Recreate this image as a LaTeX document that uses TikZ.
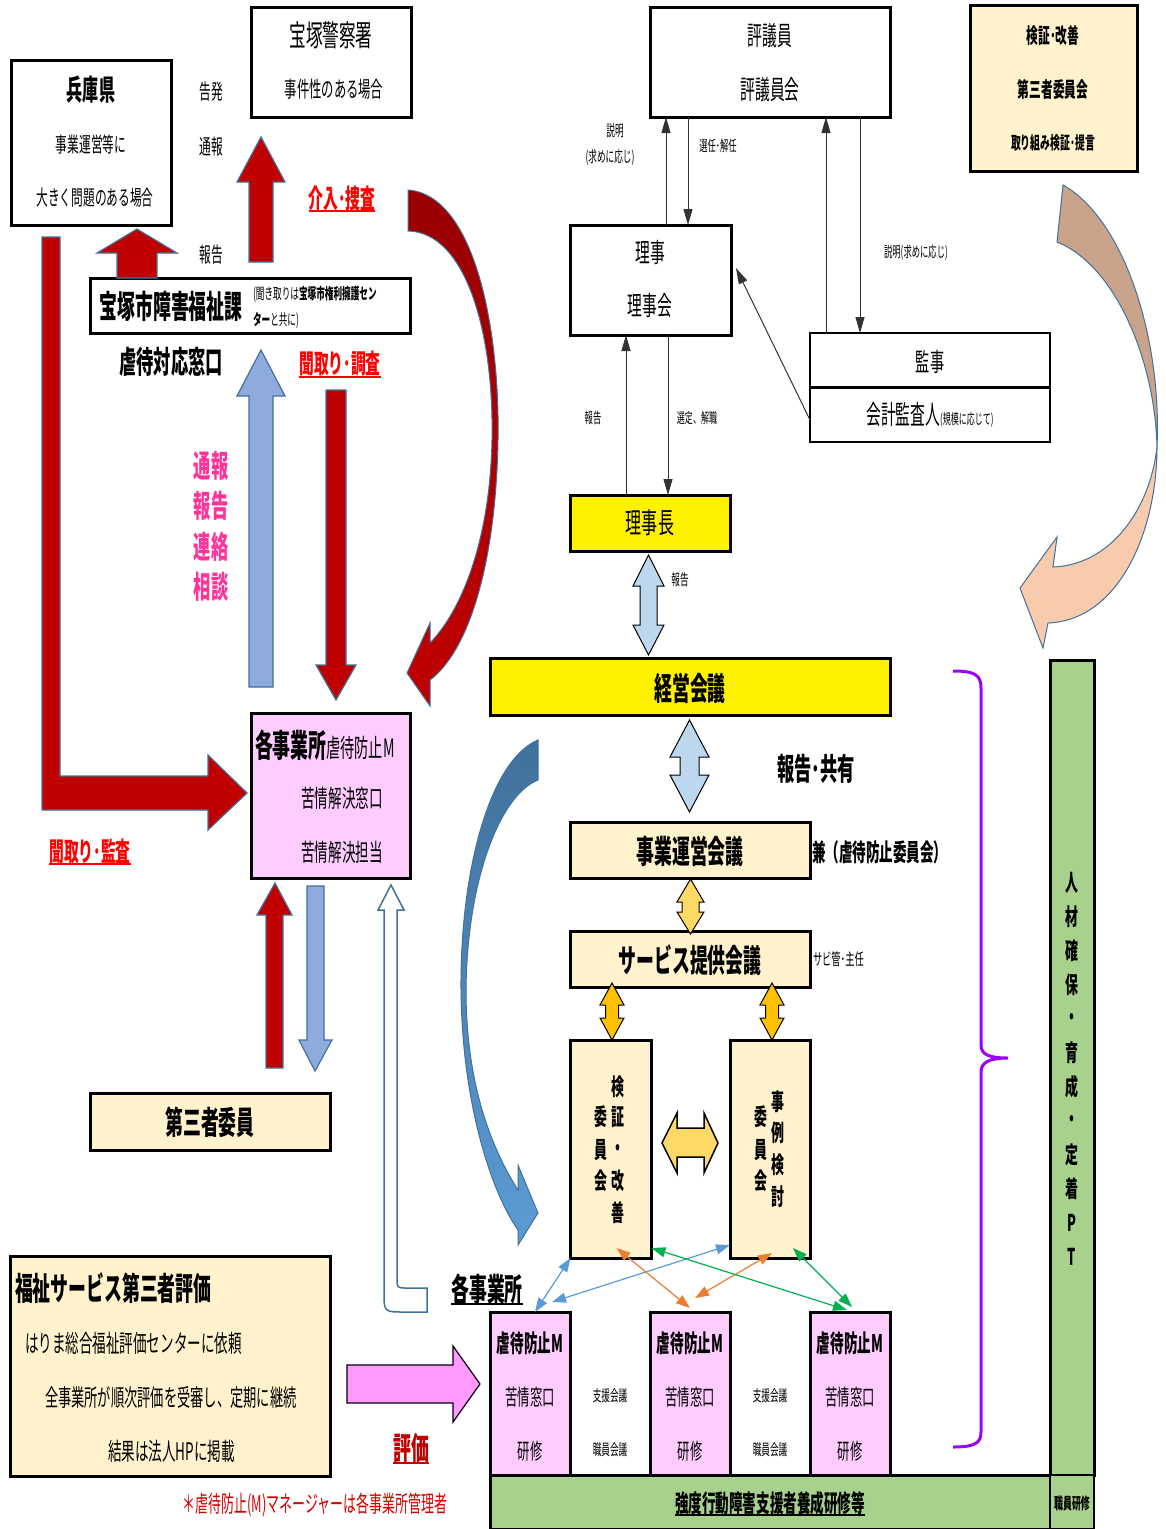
\documentclass[tikz,border=0pt]{standalone}
\usepackage{fontspec}
\setmainfont{Noto Sans CJK JP}[FakeStretch=0.56]
\usetikzlibrary{arrows.meta}
\definecolor{dred}{HTML}{C00000}
\definecolor{cdred}{HTML}{990000}
\definecolor{arrblue}{HTML}{8FAADC}
\definecolor{bordblue}{HTML}{41719C}
\definecolor{lblue}{HTML}{BDD7EE}
\definecolor{gold}{HTML}{FFD966}
\definecolor{orng}{HTML}{FFC000}
\definecolor{cream}{HTML}{FFF2CC}
\definecolor{pinkbox}{HTML}{FFCCFF}
\definecolor{grn}{HTML}{A9D18E}
\definecolor{purp}{HTML}{9900FF}
\definecolor{pinktxt}{HTML}{FF3399}
\definecolor{cblue}{HTML}{5B9BD5}
\definecolor{corange}{HTML}{ED7D31}
\definecolor{cgreen}{HTML}{00B050}
\definecolor{brownarr}{HTML}{C9A38A}
\definecolor{peach}{HTML}{F8CBAD}
\definecolor{pinkarr}{HTML}{FF99FF}
\newcommand\fsz[1]{\fontsize{\fpeval{#1*1.1}}{\fpeval{#1*1.1}}\selectfont}
\begin{document}
\begin{tikzpicture}[x=1pt,y=-1pt,
  box/.style={draw=black, line width=3pt, inner sep=0pt, outer sep=0pt},
  t/.style={inner sep=0pt, outer sep=0pt, align=center},
  blockred/.style={fill=dred, draw=bordblue, line width=1.2pt},
  blockblue/.style={fill=arrblue, draw=bordblue, line width=1.2pt},
  dbl/.style={draw=black, line width=1pt},
  thinarr/.style={draw=black!80, line width=1pt, -{Triangle[length=16pt,width=9pt]}},
  colarr/.style={line width=1.2pt, {Triangle[length=14pt,width=10pt]}-{Triangle[length=14pt,width=10pt]}},
  redul/.style={draw=red, line width=2pt},
]
\fill[white] (0,0) rectangle (1165,1529);
\useasboundingbox (0,0) rectangle (1165,1529);

% ---------------- boxes ----------------
\node[box, minimum width=160pt, minimum height=165pt] (hyogo) at (91,142.5) {};
\node[box, minimum width=160pt, minimum height=110pt] (police) at (331,62) {};
\node[box, minimum width=320pt, minimum height=55pt] (fukushi) at (250,305.5) {};
\node[box, fill=pinkbox, minimum width=159pt, minimum height=165pt] (jigyo) at (330.5,795.5) {};
\node[box, fill=cream, minimum width=240pt, minimum height=57pt] (daisan) at (210,1121.5) {};
\node[box, fill=cream, minimum width=320pt, minimum height=220pt] (hyoka) at (170,1366) {};
\node[box, minimum width=240pt, minimum height=110pt] (hyogiin) at (770,62) {};
\node[box, fill=cream, minimum width=167pt, minimum height=166pt] (kensho) at (1053.5,88) {};
\node[box, minimum width=161pt, minimum height=110pt] (riji) at (650.5,280) {};
\node[box, line width=2.5pt, minimum width=240pt, minimum height=109pt] (kanji) at (930,387.5) {};
\draw[line width=2.5pt] (kanji.west) -- (kanji.east);
\node[box, fill=yellow, minimum width=160pt, minimum height=56pt] (rijicho) at (650,523) {};
\node[box, fill=yellow, minimum width=400pt, minimum height=57pt] (keiei) at (690,686.5) {};
\node[box, fill=cream, minimum width=240pt, minimum height=56pt] (unei) at (690,850) {};
\node[box, fill=cream, minimum width=240pt, minimum height=56pt] (service) at (690,959) {};
\node[box, fill=cream, minimum width=81pt, minimum height=218pt] (kiin) at (610.5,1149) {};
\node[box, fill=cream, minimum width=80pt, minimum height=218pt] (jirei) at (770,1149) {};
\node[box, fill=pinkbox, minimum width=80pt, minimum height=163pt] (p1) at (530,1393.5) {};
\node[box, fill=pinkbox, minimum width=80pt, minimum height=163pt] (p2) at (690,1393.5) {};
\node[box, fill=pinkbox, minimum width=80pt, minimum height=163pt] (p3) at (850,1393.5) {};
\node[box, fill=grn, minimum width=560pt, minimum height=54pt] (gbar) at (770,1502) {};
\node[box, fill=grn, minimum width=44pt, minimum height=815pt] (gv) at (1072,1067.5) {};
\node[box, fill=grn, line width=2pt, minimum width=44pt, minimum height=54pt] (shokuin) at (1072,1502) {};

% ---------------- block arrows ----------------
\draw[blockred] (261,137) -- (285,182) -- (273,182) -- (273,262) -- (249,262) -- (249,182) -- (237,182) -- cycle;
\draw[blockred] (137,229) -- (177,253) -- (157,253) -- (157,278) -- (117,278) -- (117,253) -- (97,253) -- cycle;
\draw[blockblue] (261,350) -- (285,396) -- (273,396) -- (273,687) -- (249,687) -- (249,396) -- (237,396) -- cycle;
\draw[blockred] (336,700) -- (356,665) -- (346,665) -- (346,390) -- (326,390) -- (326,665) -- (316,665) -- cycle;
\draw[blockred] (42,237) -- (60,237) -- (60,776) -- (208,776) -- (208,755) -- (247,793) -- (208,830) -- (208,810) -- (42,810) -- cycle;
\draw[blockred] (275,883) -- (292,915) -- (283,915) -- (283,1068) -- (266,1068) -- (266,915) -- (257,915) -- cycle;
\draw[blockblue] (315,1071) -- (332,1040) -- (324,1040) -- (324,886) -- (307,886) -- (307,1040) -- (299,1040) -- cycle;
\draw[fill=white, draw=bordblue, line width=1.5pt] (391,885) -- (404,910) -- (397,910) -- (397,1278) .. controls (397,1288) .. (407,1288) -- (427,1288) -- (427,1312) -- (404,1312) .. controls (384,1312) .. (384,1292) -- (384,910) -- (378,910) -- cycle;
\draw[fill=pinkarr, draw=black, line width=1.2pt] (347,1365) -- (453,1365) -- (453,1346) -- (480,1384) -- (453,1422) -- (453,1403) -- (347,1403) -- cycle;

% curved arrows
\draw[draw=bordblue, line width=1pt, top color=cdred, bottom color=dred]
  (408,190) .. controls (475,195) and (500,330) .. (498,440)
  .. controls (496,560) and (470,650) .. (430,680) -- (430,706) -- (407,673) -- (430,623) -- (430,643)
  .. controls (462,610) and (490,540) .. (492,440)
  .. controls (494,330) and (465,232) .. (408,231) -- cycle;
\draw[draw=bordblue, line width=1pt, top color=bordblue, bottom color=cblue]
  (538,740) .. controls (490,760) and (460,870) .. (461,990)
  .. controls (462,1100) and (490,1190) .. (518,1230) -- (518,1245) -- (538,1213) -- (518,1165) -- (518,1190)
  .. controls (480,1130) and (466,1060) .. (466,990)
  .. controls (467,880) and (500,795) .. (538,780) -- cycle;
\draw[draw=bordblue, line width=1pt, fill=brownarr]
  (1063,185) .. controls (1125,220) and (1162,340) .. (1157,447)
  .. controls (1155,360) and (1115,265) .. (1057,242) -- cycle;
\draw[draw=bordblue, line width=1pt, fill=peach]
  (1157,447) .. controls (1157,530) and (1120,620) .. (1048,623) -- (1043,648) -- (1020,588) -- (1057,537) -- (1053,567)
  .. controls (1110,565) and (1150,510) .. (1157,447) -- cycle;

% double arrows
\draw[dbl, fill=lblue] (648.5,555) -- (664,586) -- (657,586) -- (657,625) -- (664,625) -- (648.5,655) -- (633,625) -- (640,625) -- (640,586) -- (633,586) -- cycle;
\draw[dbl, fill=lblue] (689.5,720) -- (709,757) -- (699,757) -- (699,775) -- (709,775) -- (689.5,812) -- (670,775) -- (680,775) -- (680,757) -- (670,757) -- cycle;
\draw[dbl, fill=gold] (690.5,879) -- (704,902) -- (699,902) -- (699,912) -- (704,912) -- (690.5,934) -- (677,912) -- (682,912) -- (682,902) -- (677,902) -- cycle;
\draw[dbl, fill=orng] (612,983) -- (624,1005) -- (618.5,1005) -- (618.5,1018) -- (624,1018) -- (612,1040) -- (600,1018) -- (605.5,1018) -- (605.5,1005) -- (600,1005) -- cycle;
\draw[dbl, fill=orng] (772,983) -- (784,1005) -- (778.5,1005) -- (778.5,1018) -- (784,1018) -- (772,1040) -- (760,1018) -- (765.5,1018) -- (765.5,1005) -- (760,1005) -- cycle;
\draw[dbl, fill=gold, line width=1.5pt] (662,1143) -- (677,1113) -- (677,1128) -- (704,1128) -- (704,1113) -- (718,1143) -- (704,1173) -- (704,1157) -- (677,1157) -- (677,1173) -- cycle;

% thin black arrows
\draw[thinarr] ([xshift=15.5pt]riji.north) -- ([xshift=-104pt]hyogiin.south);
\draw[thinarr] ([xshift=-82pt]hyogiin.south) -- ([xshift=37.5pt]riji.north);
\draw[thinarr] ([xshift=-104pt]kanji.north) -- ([xshift=56pt]hyogiin.south);
\draw[thinarr] ([xshift=90pt]hyogiin.south) -- ([xshift=-70pt]kanji.north);
\draw[thinarr] ([yshift=-32.5pt]kanji.west) -- ([yshift=12pt, xshift=5pt]riji.east);
\draw[thinarr] ([xshift=-24pt]rijicho.north) -- ([xshift=-24.5pt]riji.south);
\draw[thinarr] ([xshift=17.5pt]riji.south) -- ([xshift=18pt]rijicho.north);

% coloured double-headed connectors
\draw[colarr, cblue] ([xshift=5pt]p1.north) -- ([xshift=-40pt]kiin.south);
\draw[colarr, cblue] ([xshift=22pt, yshift=10pt]p1.north) -- ([xshift=-40pt, yshift=13pt]jirei.south);
\draw[colarr, corange] ([xshift=6pt, yshift=10pt]kiin.south) -- ([yshift=4pt]p2.north);
\draw[colarr, corange] ([xshift=5pt, yshift=14pt]p2.north) -- ([xshift=2pt, yshift=5pt]jirei.south);
\draw[colarr, cgreen] ([xshift=41pt, yshift=10pt]kiin.south) -- ([xshift=-3pt, yshift=2pt]p3.north);
\draw[colarr, cgreen] ([xshift=23pt, yshift=10pt]jirei.south) -- ([xshift=2pt, yshift=5pt]p3.north);

% purple brace
\draw[purp, line width=3pt] (953,671) .. controls (975,671) and (981,675) .. (981,688) -- (981,1045)
  .. controls (981,1055) and (990,1058) .. (1008,1058)
  .. controls (990,1058) and (981,1062) .. (981,1072) -- (981,1432)
  .. controls (981,1443) and (975,1447) .. (953,1447);

% ---------------- texts ----------------
\node[t, font=\fsz{26}\bfseries] (tA1) at (91,90) {兵庫県};
\node[t, font=\fsz{19}] (tA2) at (91,145) {事業運営等に};
\node[t, font=\fsz{19}] (tA3) at (95,198) {大きく問題のある場合};
\node[t, font=\fsz{27}] (tB1) at (331,35) {宝塚警察署};
\node[t, font=\fsz{20}] (tB2) at (334,89) {事件性のある場合};
\node[t, font=\fsz{19}] (tC1) at (211,92) {告発};
\node[t, font=\fsz{19}] (tC2) at (211,147) {通報};
\node[t, font=\fsz{19}] (tC3) at (211,255) {報告};
\node[t, font=\fsz{24}\bfseries, text=red] (tD) at (342,198) {介入･捜査};
\draw[redul] (tD.south west) -- (tD.south east);
\node[t, font=\fsz{29}\bfseries] (tE1) at (171,306) {宝塚市障害福祉課};
\node[t, font=\fsz{14}, anchor=west] (tE2) at (253,294) {(聞き取りは\textbf{宝塚市権利擁護セン}};
\node[t, font=\fsz{14}, anchor=west] (tE3) at (253,320) {\textbf{ター}と共に)};
\node[t, font=\fsz{28}\bfseries] (tF) at (171,362) {虐待対応窓口};
\node[t, font=\fsz{24}\bfseries, text=red] (tG) at (340,364) {聞取り･調査};
\draw[redul] (tG.south west) -- (tG.south east);
\node[t, font=\fsz{28}\bfseries, text=pinktxt] (tH1) at (211,466) {通報};
\node[t, font=\fsz{28}\bfseries, text=pinktxt] (tH2) at (211,506) {報告};
\node[t, font=\fsz{28}\bfseries, text=pinktxt] (tH3) at (211,547) {連絡};
\node[t, font=\fsz{28}\bfseries, text=pinktxt] (tH4) at (211,587) {相談};
\node[t, anchor=west] (tI1) at (255,745) {{\fsz{29}\bfseries 各事業所}{\fsz{23}虐待防止M}};
\node[t, font=\fsz{22}] (tI2) at (342,798) {苦情解決窓口};
\node[t, font=\fsz{22}] (tI3) at (342,852) {苦情解決担当};
\node[t, font=\fsz{24}\bfseries, text=red] (tJ) at (90,851) {聞取り･監査};
\draw[redul] (tJ.south west) -- (tJ.south east);
\node[t, font=\fsz{29}\bfseries] (tK) at (210,1122) {第三者委員};
\node[t, font=\fsz{29}\bfseries, anchor=west] (tL1) at (15,1288) {福祉サービス第三者評価};
\node[t, font=\fsz{22}, anchor=west] (tL2) at (25,1343) {はりま総合福祉評価センターに依頼};
\node[t, font=\fsz{21.5}, anchor=west] (tL3) at (45,1397) {全事業所が順次評価を受審し、定期に継続};
\node[t, font=\fsz{22}, anchor=west] (tL4) at (108,1451) {結果は法人HPに掲載};
\node[t, font=\fsz{29}\bfseries, text=dred] (tM) at (411,1448) {評価};
\draw[draw=dred, line width=2.5pt] (tM.south west) -- (tM.south east);
\node[t, font=\fsz{21}, text=red!85!black] (tN) at (315,1505) {＊虐待防止(M)マネージャーは各事業所管理者};

\node[t, font=\fsz{24}] (tO1) at (770,36) {評議員};
\node[t, font=\fsz{24}] (tO2) at (770,90) {評議員会};
\node[t, font=\fsz{19}\bfseries] (tP1) at (1053,36) {検証･改善};
\node[t, font=\fsz{19}\bfseries] (tP2) at (1053,89) {第三者委員会};
\node[t, font=\fsz{16}\bfseries] (tP3) at (1053,143) {取り組み検証･提言};
\node[t, font=\fsz{14}] (tQ1) at (615,131) {説明};
\node[t, font=\fsz{14}] (tQ2) at (610,158) {(求めに応じ)};
\node[t, font=\fsz{13.5}] (tQ3) at (718,146) {選任･解任};
\node[t, font=\fsz{13.5}] (tQ4) at (916,253) {説明(求めに応じ)};
\node[t, font=\fsz{24}] (tR1) at (650,253) {理事};
\node[t, font=\fsz{24}] (tR2) at (650,306) {理事会};
\node[t, font=\fsz{23}] (tS1) at (930,362) {監事};
\node[t] (tS2) at (930,415) {{\fsz{24}会計監査人}{\fsz{13}(規模に応じて)}};
\node[t, font=\fsz{13.5}] (tT1) at (593,418) {報告};
\node[t, font=\fsz{13}] (tT2) at (697,418) {選定、解職};
\node[t, font=\fsz{26}] (tU) at (650,523) {理事長};
\node[t, font=\fsz{14}] (tV) at (680,580) {報告};
\node[t, font=\fsz{29}\bfseries] (tW) at (690,688) {経営会議};
\node[t, font=\fsz{28}\bfseries] (tX) at (816,769) {報告･共有};
\node[t, font=\fsz{29}\bfseries] (tY1) at (690,851) {事業運営会議};
\node[t, font=\fsz{22}\bfseries, anchor=west] (tY2) at (812,852) {兼（虐待防止委員会）};
\node[t, font=\fsz{29}\bfseries] (tZ1) at (690,960) {サービス提供会議};
\node[t, font=\fsz{15}, anchor=west] (tZ2) at (813,959) {サビ管･主任};

% vertical texts
\foreach \c/\yy [count=\i] in {検/1087,証/1117,・/1150,改/1181,善/1213}
  \node[t, font=\fsz{21}\bfseries] (ka\i) at (618,\yy) {\c};
\foreach \c/\yy [count=\i] in {委/1117,員/1150,会/1181}
  \node[t, font=\fsz{21}\bfseries] (kb\i) at (601,\yy) {\c};
\foreach \c/\yy [count=\i] in {事/1102,例/1133,検/1165,討/1197}
  \node[t, font=\fsz{21}\bfseries] (ja\i) at (778,\yy) {\c};
\foreach \c/\yy [count=\i] in {委/1117,員/1150,会/1181}
  \node[t, font=\fsz{21}\bfseries] (jb\i) at (761,\yy) {\c};
\foreach \c [count=\i] in {人,材,確,保,・,育,成,・,定,着,P,T}
  \node[t, font=\fsz{21}\bfseries] (gv\i) at (1072,{883+(\i-1)*34}) {\c};

\node[t, font=\fsz{29}\bfseries] (tAA) at (487,1289) {各事業所};
\draw[line width=2pt] (tAA.south west) -- (tAA.south east);
\foreach \n/\xx in {1/530,2/690,3/850}{
  \node[t, font=\fsz{22}\bfseries] (pm\n) at (\xx,1343) {虐待防止M};
  \node[t, font=\fsz{20}] (pk\n) at (\xx,1397) {苦情窓口};
  \node[t, font=\fsz{20}] (pt\n) at (\xx,1451) {研修};
}
\foreach \n/\xx in {1/610,2/770}{
  \node[t, font=\fsz{14}] (sa\n) at (\xx,1396) {支援会議};
  \node[t, font=\fsz{14}] (sb\n) at (\xx,1450) {職員会議};
}
\node[t, font=\fsz{22}\bfseries] (tBB) at (770,1503) {強度行動障害支援者養成研修等};
\draw[line width=2pt] (tBB.south west) -- (tBB.south east);
\node[t, font=\fsz{14.5}\bfseries] (tCC) at (1072,1503) {職員研修};
\end{tikzpicture}
\end{document}
